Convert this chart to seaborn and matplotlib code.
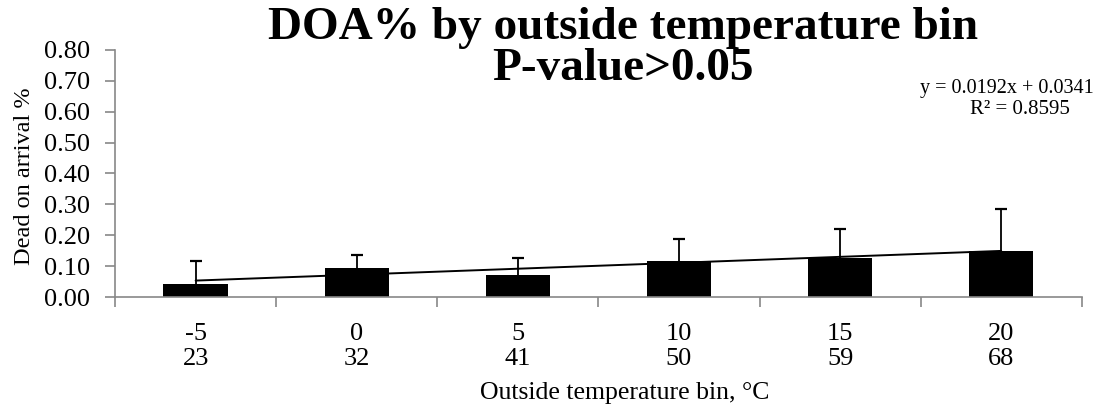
import matplotlib
matplotlib.use("Agg")
import matplotlib.pyplot as plt
import seaborn as sns
import numpy as np
import pandas as pd

# Data
temps_c = ["-5", "0", "5", "10", "15", "20"]
temps_f = ["23", "32", "41", "50", "59", "68"]
doa_pct = [0.042, 0.094, 0.070, 0.116, 0.128, 0.148]
doa_err = [0.075, 0.042, 0.057, 0.072, 0.091, 0.137]
trend_slope = 0.0192
trend_intercept = 0.0341
r_squared = 0.8595

sns.set_theme(style="white")
plt.rcParams['font.family'] = ['Liberation Serif', 'DejaVu Serif']
plt.rcParams['text.color'] = 'black'
plt.rcParams['axes.labelcolor'] = 'black'
plt.rcParams['xtick.color'] = 'black'
plt.rcParams['ytick.color'] = 'black'

fig = plt.figure(figsize=(10.96, 4.12), dpi=100)
ax = fig.add_axes([0.105, 0.279, 0.882, 0.600])

labels = [f"{c}\n{f}" for c, f in zip(temps_c, temps_f)]
df = pd.DataFrame({"bin": labels, "doa": doa_pct})
sns.barplot(data=df, x="bin", y="doa", color="black", width=0.4,
            errorbar=None, ax=ax, saturation=1, edgecolor="black", linewidth=0)

xpos = np.arange(len(doa_pct))
tops = np.array(doa_pct) + np.array(doa_err)
ax.vlines(xpos, doa_pct, tops, color="black", lw=1.3, zorder=3)
ax.errorbar(xpos, tops, xerr=0.037, fmt="none", ecolor="black", elinewidth=1.6, capsize=0, zorder=3)

trend_x = np.arange(1, len(doa_pct) + 1)
trend_y = trend_slope * trend_x + trend_intercept
ax.plot(xpos, trend_y, color="black", lw=1.4, zorder=4)

yt = np.arange(0, 0.81, 0.1)
ax.set_ylim(0, 0.8)
ax.set_yticks(yt)
ax.set_yticklabels([f"{v:.2f}" for v in yt], fontsize=19)
ax.set_xlim(-0.5, len(doa_pct) - 0.5)
ax.set_xticks(xpos)
ax.set_xticklabels(labels, fontsize=19, linespacing=1.15)
ax.tick_params(axis="x", length=0, pad=19)
ax.tick_params(axis="y", length=7, color="#888888", direction="out", left=True, pad=11, width=1.2)
ax.set_xticks(np.arange(-0.5, len(doa_pct), 1.0), minor=True)
ax.tick_params(axis="x", which="minor", length=7, color="#888888", direction="out", bottom=True, width=1.2)

for s in ["top", "right"]:
    ax.spines[s].set_visible(False)
for s in ["left", "bottom"]:
    ax.spines[s].set_color("#888888")
    ax.spines[s].set_linewidth(1.2)

ax.set_xlabel("")
fig.text(625 / 1096, 1 - 393 / 412, "Outside temperature bin, °C", ha="center", va="center",
         fontsize=18.5)
ax.set_ylabel("Dead on arrival %", fontsize=17.5)
ax.yaxis.set_label_coords(-0.083, 0.49)

fig.text(623 / 1096, 1 - 39 / 412, "DOA% by outside temperature bin", ha="center", va="baseline",
         fontsize=34, fontweight="bold")
fig.text(623 / 1096, 1 - 80 / 412, "P-value>0.05", ha="center", va="baseline",
         fontsize=34, fontweight="bold")

fig.text(1094 / 1096, 1 - 88 / 412, f"y = {trend_slope}x + {trend_intercept}", ha="right", va="center", fontsize=14.5)
fig.text(1070 / 1096, 1 - 109 / 412, f"R² = {r_squared}", ha="right", va="center", fontsize=15)

fig.savefig("out.png", dpi=100)
